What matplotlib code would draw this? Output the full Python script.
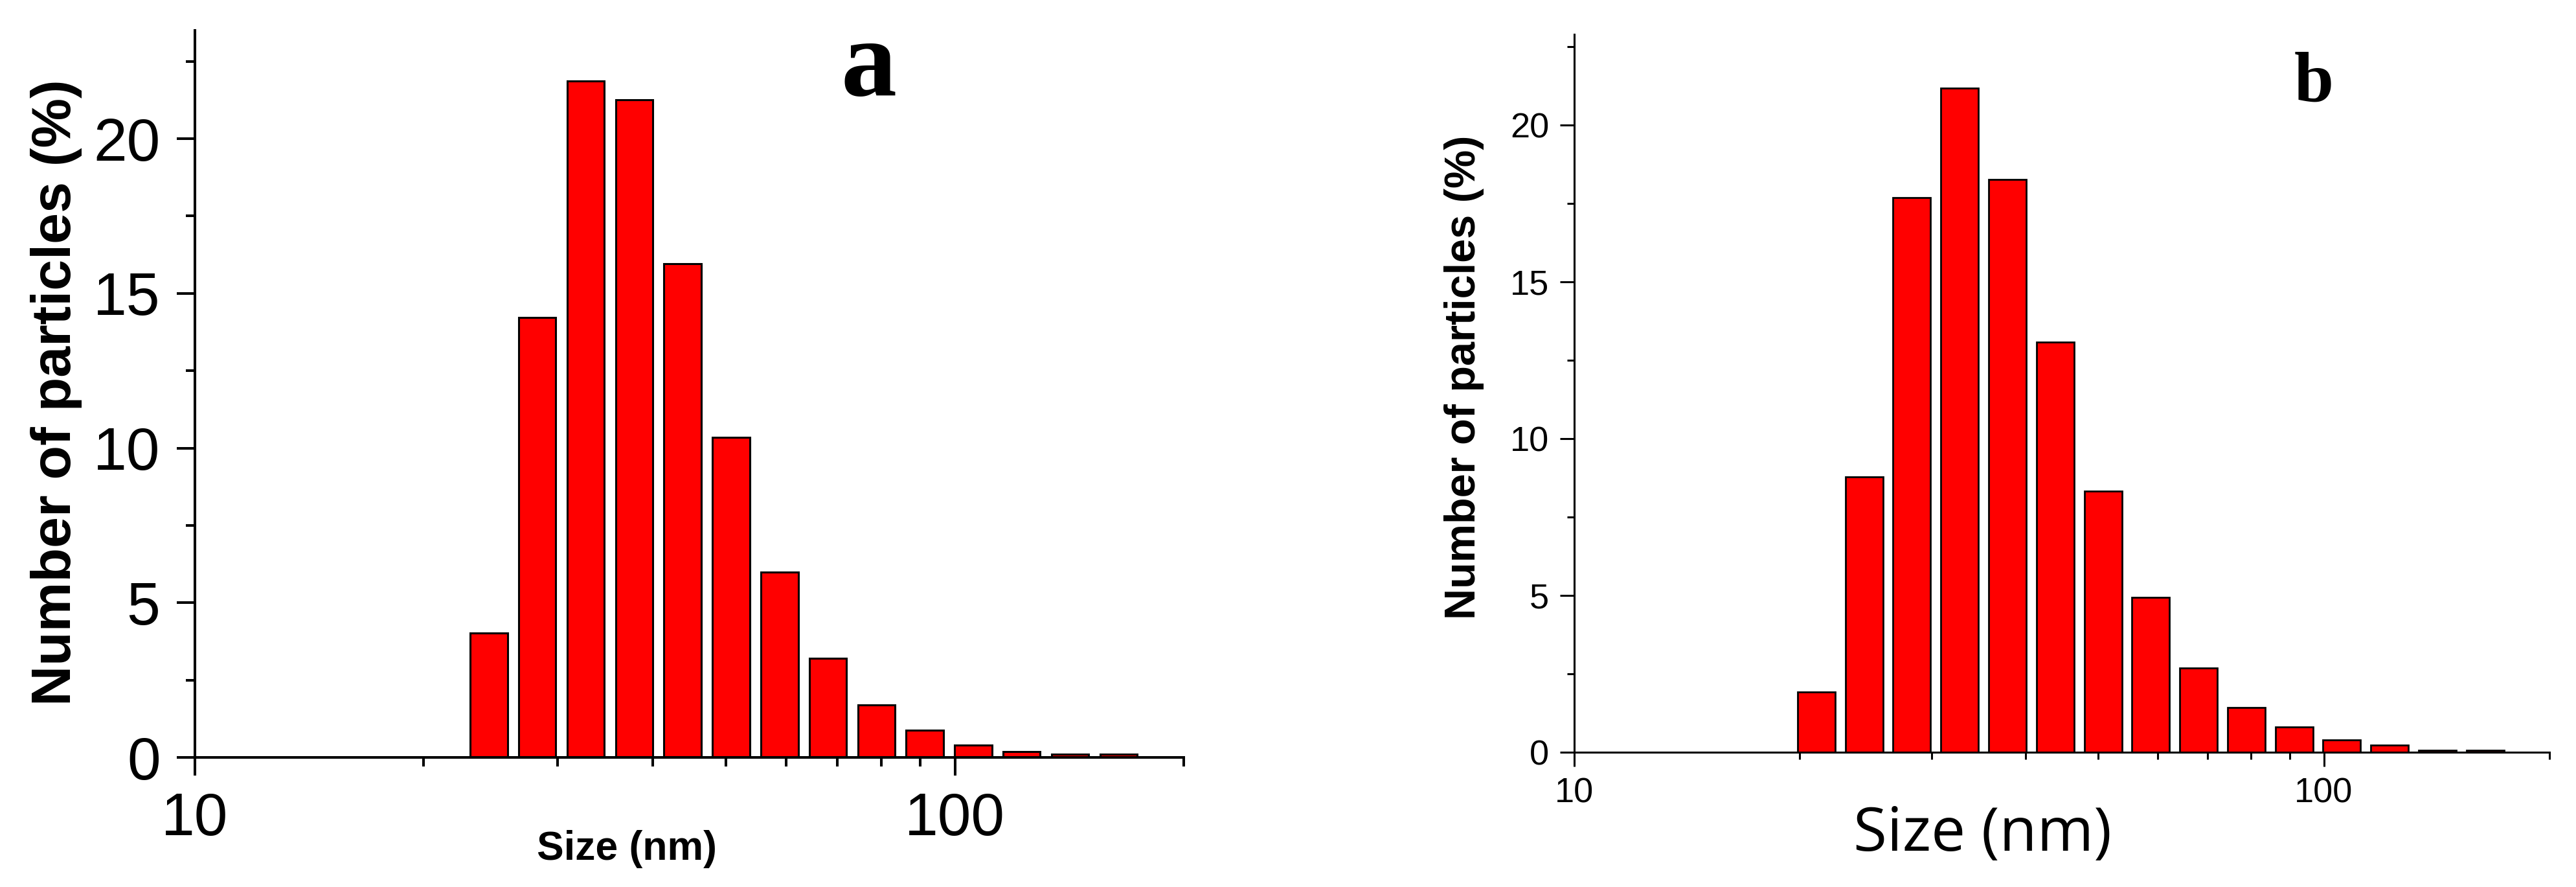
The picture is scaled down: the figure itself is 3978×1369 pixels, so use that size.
import numpy as np
import matplotlib
matplotlib.use("Agg")
import matplotlib.pyplot as plt
from matplotlib.ticker import FixedLocator, FixedFormatter, LogLocator, NullFormatter, MultipleLocator

# size classes (nm) and number distributions (%)
size_a = [24.36, 28.21, 32.67, 37.84, 43.82, 50.75, 58.77, 68.06, 78.82, 91.28, 105.7, 122.4, 141.8, 164.2]
num_a = [4.02, 14.23, 21.87, 21.25, 15.96, 10.34, 6.0, 3.21, 1.69, 0.88, 0.40, 0.18, 0.11, 0.11]

size_b = [21.04, 24.36, 28.21, 32.67, 37.84, 43.82, 50.75, 58.77, 68.06, 78.82, 91.28, 105.7, 122.4, 141.8, 164.2]
num_b = [1.92, 8.79, 17.69, 21.19, 18.28, 13.09, 8.32, 4.94, 2.68, 1.43, 0.81, 0.40, 0.22, 0.07, 0.07]

xticks = [10, 100]
xticklabels = ["10", "100"]
yticks = [0, 5, 10, 15, 20]

W, H = 3978, 1369
fig = plt.figure(figsize=(W / 100, H / 100), dpi=100)


def px(x0, y0, x1, y1):
    return [x0 / W, 1 - y1 / H, (x1 - x0) / W, (y1 - y0) / H]


def draw(ax, sizes, vals, ymax, dex, lw, spw, tfs, maj, mnr, pad):
    s = np.array(sizes)
    left = s / 10 ** (dex / 2)
    right = s * 10 ** (dex / 2)
    ax.bar(left, vals, width=right - left, align="edge", color="#ff0000",
           edgecolor="black", linewidth=lw, zorder=2)
    ax.set_xscale("log")
    ax.set_xlim(10, 200)
    ax.set_ylim(0, ymax)
    for side in ["top", "right"]:
        ax.spines[side].set_visible(False)
    for side in ["left", "bottom"]:
        ax.spines[side].set_linewidth(spw)
        ax.spines[side].set_zorder(3)
    ax.xaxis.set_major_locator(FixedLocator(xticks))
    ax.xaxis.set_major_formatter(FixedFormatter(xticklabels))
    ax.xaxis.set_minor_locator(LogLocator(base=10, subs=[2, 3, 4, 5, 6, 7, 8, 9]))
    ax.xaxis.set_minor_formatter(NullFormatter())
    ax.set_yticks(yticks)
    ax.yaxis.set_minor_locator(MultipleLocator(2.5))
    ax.tick_params(which="major", direction="out", length=maj, width=spw,
                   labelsize=tfs, pad=pad)
    ax.tick_params(which="minor", direction="out", length=mnr, width=spw)
    for lab in ax.get_xticklabels() + ax.get_yticklabels():
        lab.set_family("Liberation Sans")


ax1 = fig.add_axes(px(301, 47, 1828, 1169))
draw(ax1, size_a, num_a, 23.5, 0.049, 2.2, 2.9, 67, 20.5, 10, 18)

ax2 = fig.add_axes(px(2431, 53, 3937, 1161))
draw(ax2, size_b, num_b, 22.9, 0.050, 2.0, 2.2, 39, 16, 8, 12)

# panel a texts
fig.text(87 / W, 1 - 606 / H, "Number of particles (%)", rotation=90,
         ha="center", va="center", fontsize=62, fontweight="bold",
         family="Liberation Sans")
fig.text(968 / W, 1 - 1327 / H, "Size (nm)", ha="center", va="baseline",
         fontsize=45, fontweight="bold", family="Liberation Sans")
fig.text(1342 / W, 1 - 147 / H, "a", ha="center", va="baseline",
         fontsize=124, fontweight="bold", family="Liberation Serif")

# panel b texts
fig.text(2261 / W, 1 - 582 / H, "Number of particles (%)", rotation=90,
         ha="center", va="center", fontsize=48, fontweight="bold",
         family="Liberation Sans")
fig.text(3061 / W, 1 - 1313 / H, "Size (nm)", ha="center", va="baseline",
         fontsize=68, family="Open Sans")
fig.text(3573 / W, 1 - 157 / H, "b", ha="center", va="baseline",
         fontsize=79, fontweight="bold", family="Liberation Serif")

fig.savefig("out.png", dpi=100)
